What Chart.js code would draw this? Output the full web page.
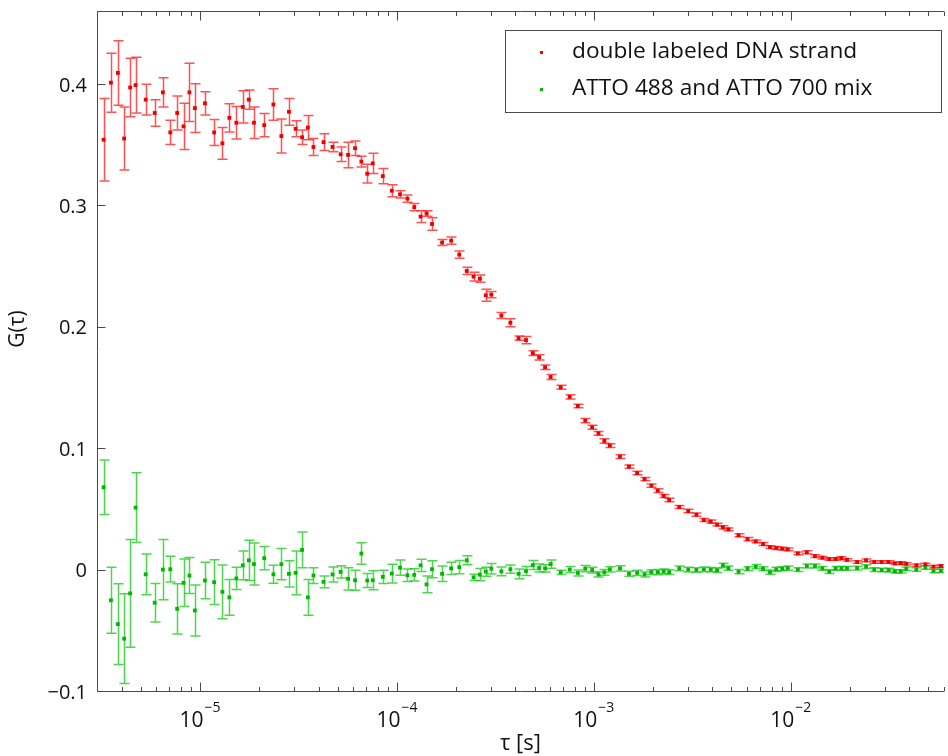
<!DOCTYPE html>
<html>
<head>
<meta charset="utf-8">
<script src="https://cdn.jsdelivr.net/npm/chart.js@4.4.0/dist/chart.umd.min.js"></script>
<style>
  html, body { margin: 0; padding: 0; background: #fff; }
  #wrap { width: 948px; height: 756px; }
</style>
</head>
<body>
<div id="wrap"><canvas id="myChart" width="948" height="756"></canvas></div>
<script>
// lag times of the correlator, in microseconds
const tauUs = [
  3.24, 3.53, 3.83, 4.12, 4.42, 4.71,
  5.30, 5.89, 6.48, 7.07, 7.66, 8.25, 8.84, 9.42,
  10.6, 11.8, 13.0, 14.1, 15.3, 16.5, 17.7, 18.8,
  21.2, 23.6, 25.9, 28.3, 30.6, 33.0, 35.3, 37.7,
  42.4, 47.1, 51.8, 56.5, 61.3, 66.0, 70.7, 75.4,
  84.8, 94.2, 103.7, 113.1, 122.5, 131.9, 141.4, 150.8,
  169.6, 188.5, 207.3, 226.2, 245.0, 263.9, 282.7, 301.6,
  339.3, 377.0, 414.7, 452.4, 490.1, 527.8, 565.4, 603.1,
  678.5, 753.9, 829.3, 904.7, 980.1, 1055.5, 1130.9, 1206.3,
  1357, 1508, 1659, 1809, 1960, 2111, 2262, 2413,
  2714, 3016, 3317, 3619, 3921, 4222, 4524, 4825,
  5428, 6031, 6635, 7238, 7841, 8444, 9048, 9651,
  10856, 12063, 13269, 14475, 15681, 16888, 18094, 19300,
  21713, 24125, 26538, 28950, 31363, 33775, 36188, 38600,
  43426, 48251, 53076, 57901
];

const dnaG = [
  0.354, 0.401, 0.409, 0.355, 0.397, 0.399,
  0.387, 0.376, 0.393, 0.360, 0.376, 0.365, 0.393, 0.380,
  0.384, 0.360, 0.351, 0.372, 0.368, 0.381, 0.387, 0.368,
  0.366, 0.383, 0.357, 0.377, 0.363, 0.356, 0.364, 0.348,
  0.352, 0.348, 0.342, 0.3415, 0.347, 0.336, 0.326, 0.3345,
  0.324, 0.312, 0.309, 0.3055, 0.2985, 0.2907, 0.2932, 0.2846,
  0.2693, 0.2709, 0.2594, 0.2459, 0.2413, 0.2396, 0.2259, 0.2264,
  0.2092, 0.2033, 0.1906, 0.189, 0.1783, 0.1748, 0.1666, 0.1586,
  0.1501, 0.1422, 0.1347, 0.1227, 0.1172, 0.1122, 0.1059, 0.1021,
  0.093, 0.0848, 0.0795, 0.0745, 0.0691, 0.065, 0.0606, 0.0573,
  0.0515, 0.0482, 0.0452, 0.0408, 0.0395, 0.037, 0.0348, 0.0331,
  0.0282, 0.0251, 0.0232, 0.021, 0.0185, 0.0178, 0.0172, 0.0166,
  0.0133, 0.0142, 0.0111, 0.0098, 0.0087, 0.0087, 0.0095, 0.0080,
  0.0062, 0.0076, 0.0062, 0.0062, 0.0062, 0.0051, 0.0054, 0.0047,
  0.0035, 0.0043, 0.0024, 0.0029
];
const dnaErr = [
  0.034, 0.0243, 0.0266, 0.026, 0.024, 0.023,
  0.0126, 0.011, 0.012, 0.010, 0.014, 0.019, 0.024, 0.020,
  0.0096, 0.0107, 0.013, 0.0117, 0.0134, 0.0133, 0.008, 0.013,
  0.0096, 0.013, 0.014, 0.011, 0.0066, 0.006, 0.010, 0.0069,
  0.0069, 0.004, 0.006, 0.0105, 0.006, 0.0044, 0.0077, 0.0084,
  0.0063, 0.005, 0.003, 0.003, 0.003, 0.0048, 0.0023, 0.0052,
  0.0025, 0.003, 0.003, 0.003, 0.0036, 0.003, 0.005, 0.0025,
  0.0025, 0.0033, 0.0017, 0.003, 0.002, 0.0022, 0.0018, 0.002,
  0.0016, 0.0018, 0.0015, 0.0018, 0.0017, 0.0016, 0.0018, 0.0016,
  0.0015, 0.0014, 0.0015, 0.0013, 0.0014, 0.0015, 0.0013, 0.0014,
  0.0012, 0.0014, 0.0013, 0.0012, 0.0013, 0.0012, 0.0013, 0.0012,
  0.0012, 0.0013, 0.0011, 0.0012, 0.0011, 0.0012, 0.0011, 0.0011,
  0.0011, 0.0012, 0.0011, 0.0010, 0.0011, 0.0010, 0.0011, 0.0010,
  0.0010, 0.0011, 0.0010, 0.0010, 0.0010, 0.0010, 0.0010, 0.0010,
  0.0010, 0.0010, 0.0010, 0.0010
];

const mixG = [
  0.0678, -0.0253, -0.0449, -0.0569, -0.0196, 0.051,
  -0.0039, -0.0273, 0.0, 0.0003, -0.0323, -0.0109, -0.0049, -0.0337,
  -0.009, -0.0104, -0.0183, -0.0229, -0.0073, 0.0035, 0.0076, 0.0045,
  0.0094, -0.0039, 0.0045, -0.0035, -0.0027, 0.0162, -0.0229, -0.0049,
  -0.0101, -0.004, -0.0019, -0.0076, -0.0088, 0.0132, -0.009, -0.0088,
  -0.006, -0.0033, 0.0016, -0.0047, -0.0044, 0.0035, -0.0122, 0.0003,
  -0.0035, 0.001, 0.002, 0.0076, -0.0064, -0.0042, -0.0017, 0.0007,
  -0.0015, 0.0003, -0.0035, -0.0012, 0.0037, 0.0013, 0.001, 0.0045,
  -0.0023, 0.0, -0.0028, 0.0008, -0.0004, -0.004, -0.0023, 0.0002,
  0.001, -0.0035, -0.0027, -0.004, -0.0021, -0.0021, -0.0015, -0.0021,
  0.001, 0.0, -0.0004, 0.0002, 0.0, -0.0006, 0.0035, 0.0012,
  -0.0017, 0.0007, 0.0024, 0.0007, -0.0021, 0.0002, 0.0007, 0.0012,
  0.0, 0.0029, 0.0029, 0.001, -0.0017, 0.001, 0.001, 0.001,
  0.0012, 0.0024, 0.0, -0.0004, -0.0004, -0.0015, -0.0015, 0.0007,
  0.0, 0.0016, -0.0012, -0.001
];
const mixErr = [
  0.0224, 0.0272, 0.0332, 0.037, 0.0443, 0.0288,
  0.0168, 0.0158, 0.0248, 0.0106, 0.0207, 0.0196, 0.0148, 0.021,
  0.015, 0.0184, 0.0221, 0.0147, 0.0092, 0.0118, 0.0165, 0.0173,
  0.0096, 0.0074, 0.0129, 0.0108, 0.018, 0.0147, 0.0148, 0.0065,
  0.0048, 0.0062, 0.0051, 0.0092, 0.0082, 0.0088, 0.0058, 0.0078,
  0.0054, 0.0077, 0.0062, 0.0052, 0.005, 0.005, 0.0069, 0.007,
  0.0064, 0.005, 0.0054, 0.0037, 0.0026, 0.005, 0.0037, 0.0044,
  0.0036, 0.0034, 0.004, 0.0037, 0.0037, 0.0033, 0.003, 0.0034,
  0.0018, 0.0025, 0.0025, 0.0025, 0.0024, 0.0022, 0.0024, 0.0022,
  0.0022, 0.0021, 0.0022, 0.0021, 0.0020, 0.0021, 0.0020, 0.0020,
  0.0019, 0.0020, 0.0019, 0.0019, 0.0018, 0.0019, 0.0018, 0.0018,
  0.0018, 0.0017, 0.0018, 0.0017, 0.0017, 0.0017, 0.0016, 0.0017,
  0.0016, 0.0016, 0.0016, 0.0016, 0.0015, 0.0016, 0.0015, 0.0015,
  0.0015, 0.0015, 0.0015, 0.0014, 0.0015, 0.0014, 0.0014, 0.0014,
  0.0014, 0.0014, 0.0014, 0.0014
];

const seriesLabels = ['double labeled DNA strand', 'ATTO 488 and ATTO 700 mix'];
const xTicks = [1e-5, 1e-4, 1e-3, 1e-2];
const xTickExp = ['\u22125', '\u22124', '\u22123', '\u22122'];
const yTicks = [-0.1, 0, 0.1, 0.2, 0.3, 0.4];
const yTickLabels = ['\u22120.1', '0', '0.1', '0.2', '0.3', '0.4'];

const FONT = '"Open Sans", "DejaVu Sans", sans-serif';
const AXIS_COLOR = '#4a4a4a';

function toPoints(g) {
  return tauUs.map((t, i) => ({ x: t * 1e-6, y: g[i] }));
}

// vertical error bars with caps, drawn under the markers
const errorBars = {
  id: 'errorBars',
  beforeDatasetsDraw(chart) {
    const { ctx, chartArea: { left, top, right, bottom }, scales: { x, y } } = chart;
    ctx.save();
    ctx.beginPath();
    ctx.rect(left, top, right - left, bottom - top);
    ctx.clip();
    chart.data.datasets.forEach(ds => {
      ctx.strokeStyle = ds.errorColor;
      ctx.lineWidth = 1.5;
      ds.data.forEach((p, i) => {
        const px = Math.round(x.getPixelForValue(p.x)) + 0.5;
        const y1 = y.getPixelForValue(p.y + ds.errors[i]);
        const y2 = y.getPixelForValue(p.y - ds.errors[i]);
        ctx.beginPath();
        ctx.moveTo(px, y1); ctx.lineTo(px, y2);
        ctx.moveTo(px - 5, y1); ctx.lineTo(px + 5, y1);
        ctx.moveTo(px - 5, y2); ctx.lineTo(px + 5, y2);
        ctx.stroke();
      });
    });
    ctx.restore();
  }
};

// matlab-like box axes, inward ticks, superscript labels, boxed legend
const boxAxes = {
  id: 'boxAxes',
  afterDraw(chart) {
    const { ctx, chartArea: { left, top, right, bottom }, scales: { x, y } } = chart;
    ctx.save();
    ctx.strokeStyle = AXIS_COLOR;
    ctx.lineWidth = 1;
    const L = Math.round(left) + 0.5, T = Math.round(top) + 0.5, B = Math.round(bottom) + 0.5;
    ctx.beginPath();
    ctx.moveTo(right, T); ctx.lineTo(L, T); ctx.lineTo(L, B); ctx.lineTo(right, B);
    ctx.stroke();

    // x ticks, bottom and top
    ctx.beginPath();
    for (let n = -6; n <= -1; n++) {
      for (let k = 1; k <= 9; k++) {
        const v = k * Math.pow(10, n);
        if (v < x.min || v > x.max) continue;
        const px = Math.round(x.getPixelForValue(v)) + 0.5;
        const len = k === 1 ? 9 : 4.5;
        ctx.moveTo(px, B); ctx.lineTo(px, B - len);
        ctx.moveTo(px, T); ctx.lineTo(px, T + len);
      }
    }
    yTicks.forEach(v => {
      const py = Math.round(y.getPixelForValue(v)) + 0.5;
      ctx.moveTo(L, py); ctx.lineTo(L + 8, py);
    });
    ctx.stroke();

    ctx.fillStyle = '#111';
    // y tick labels
    ctx.font = '20px ' + FONT;
    ctx.textAlign = 'right';
    ctx.textBaseline = 'middle';
    yTicks.forEach((v, i) => {
      ctx.fillText(yTickLabels[i], 87, y.getPixelForValue(v) + 2);
    });

    // x tick labels 10^n
    ctx.textAlign = 'left';
    ctx.textBaseline = 'alphabetic';
    xTicks.forEach((v, i) => {
      const px = x.getPixelForValue(v);
      ctx.font = '21px ' + FONT;
      const wBase = ctx.measureText('10').width;
      ctx.font = '14px ' + FONT;
      const wExp = ctx.measureText(xTickExp[i]).width;
      const x0 = px - (wBase + wExp + 1) / 2;
      ctx.font = '21px ' + FONT;
      ctx.fillText('10', x0, 727);
      ctx.font = '14px ' + FONT;
      ctx.fillText(xTickExp[i], x0 + wBase + 1, 712);
    });

    // axis titles
    ctx.font = '22px ' + FONT;
    ctx.textAlign = 'center';
    ctx.textBaseline = 'top';
    ctx.fillText('\u03c4 [s]', (left + right) / 2, 733);
    ctx.save();
    ctx.translate(18, 329);
    ctx.rotate(-Math.PI / 2);
    ctx.textBaseline = 'middle';
    ctx.font = '21px ' + FONT;
    ctx.fillText('G(\u03c4)', 0, 0);
    ctx.restore();

    // legend
    const lx = 505.5, ly = 30.5, lw = 436, lh = 82;
    ctx.fillStyle = '#fff';
    ctx.fillRect(lx, ly, lw, lh);
    ctx.strokeStyle = AXIS_COLOR;
    ctx.strokeRect(lx, ly, lw, lh);
    ctx.font = '22.7px ' + FONT;
    ctx.textAlign = 'left';
    ctx.textBaseline = 'middle';
    chart.data.datasets.forEach((ds, i) => {
      const ry = 52 + i * 37;
      ctx.fillStyle = ds.backgroundColor;
      ctx.fillRect(540, ry - 1, 3, 3);
      ctx.fillStyle = '#111';
      ctx.fillText(seriesLabels[i], 572, ry);
    });
    ctx.restore();
  }
};

new Chart(document.getElementById('myChart'), {
  type: 'scatter',
  data: {
    datasets: [
      {
        label: seriesLabels[0],
        data: toPoints(dnaG),
        errors: dnaErr,
        errorColor: 'rgba(255, 25, 25, 0.75)',
        backgroundColor: '#ee0000',
        pointStyle: 'rect',
        pointRadius: 2.7,
        pointBorderWidth: 0
      },
      {
        label: seriesLabels[1],
        data: toPoints(mixG),
        errors: mixErr,
        errorColor: 'rgba(20, 200, 20, 0.75)',
        backgroundColor: '#00b800',
        pointStyle: 'rect',
        pointRadius: 2.7,
        pointBorderWidth: 0
      }
    ]
  },
  options: {
    responsive: false,
    animation: false,
    layout: { padding: { left: 97, top: 11, right: 0, bottom: 65 } },
    plugins: { legend: { display: false }, tooltip: { enabled: false } },
    scales: {
      x: { type: 'logarithmic', min: 3e-6, max: 0.06, display: false },
      y: { type: 'linear', min: -0.1, max: 0.46, display: false }
    }
  },
  plugins: [errorBars, boxAxes]
});
</script>
</body>
</html>
